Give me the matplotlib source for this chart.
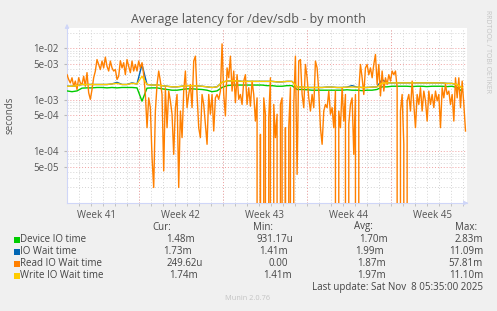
import numpy as np
import matplotlib
matplotlib.use('Agg')
import matplotlib.pyplot as plt
from matplotlib.patches import Rectangle
from matplotlib.ticker import FixedLocator, FuncFormatter, NullFormatter

W, H = 497, 311

# x axis: hours from the left edge of the graph (2 h per pixel, 400 px)
span_h = 800
week_starts = [143, 311, 479, 647]
week_mids = [59, 227, 395, 563, 731]
week_labels = ['Week 41', 'Week 42', 'Week 43', 'Week 44', 'Week 45']

# read io wait time in ms, one sample every ~3.3 h (0 = idle)
read_ms = [
    3.1, 2.5, 2.15, 2.7, 1.85, 2.33, 1.6, 2.7, 2.15, 2.0, 2.9, 1.85, 3.4, 1.38,
    1.03, 1.6, 2.7, 3.65, 6.1, 4.9, 3.9, 5.7, 4.2, 6.8, 4.5, 3.65, 5.7, 4.2,
    3.65, 3.9, 2.5, 2.9, 5.8, 4.2, 5.3, 3.1, 6.1, 4.5, 3.4, 5.7, 3.65,
    4.9, 3.65, 5.7, 4.2, 5.3, 3.1, 1.28, 0.29, 1.1, 0.71, 0.076, 0.02, 0.61,
    2.0, 3.65, 2.33, 1.28, 0.042, 1.73, 0.29, 1.49, 0.96, 0.53, 0.088, 0.71,
    1.28, 0.02, 0.61, 0.186, 1.49, 3.65, 0.71, 1.28, 2.0, 0.71, 5.7, 7.1, 1.28,
    0.29,
    0.186, 1.28, 0.82, 0.34, 0.138, 1.28, 0.53, 1.28, 0.25, 1.1, 1.28, 1.03,
    1.49, 12.3, 1.28, 0.49, 4.2, 2.7, 7.1, 1.49, 3.65, 0.89, 3.1, 1.03, 1.28,
    0.82, 2.33, 3.1, 0.82, 1.73, 0.76, 2.33, 1.28, 0.39, 1.1, 0, 0.215, 0, 1.1,
    0.53, 0, 0.45, 2.7, 0, 0.82, 0.186, 0.53, 0, 0.82, 1.1, 0, 0.29, 0, 0.29,
    1.73, 0, 0.82, 7.1, 0.036, 5.7, 6.1, 1.28, 0.71, 4.9, 2.7, 1.1, 0.61, 1.28,
    0.71, 5.7, 4.2, 1.49, 0.29, 0.138, 0.61, 0.82,
    0.71, 1.49, 0.53, 0.71, 0.29, 1.49, 0, 0.61, 0.29, 1.73, 0.39, 1.28, 0,
    0.34, 0.82, 1.1, 0.088, 1.28, 0, 1.49, 4.9, 2.7, 1.28, 4.2, 4.9, 3.1, 4.2,
    2.7, 4.9, 7.65, 2.0, 4.9, 1.2, 3.65, 1.49, 2.7, 2.0, 3.1, 2.33, 3.65, 3.1,
    3.65, 1.73, 0, 0.61, 1.28, 0.138, 0, 0.96, 1.28, 0.61, 2.33, 0.82, 0.29,
    1.28, 0.82, 1.73, 0.61, 1.49, 0.96, 0.39, 1.49, 0.82, 1.28, 0.71, 1.49,
    0.96, 1.28, 0.29, 1.73, 1.1, 2.0, 1.28, 1.49, 0.82, 1.28, 0.39, 2.7, 1.1,
    2.7, 0.71, 2.33, 0.82, 0.25,
]

# smoother series in ms, one sample every 10 h
device_ms = [
    1.5, 1.45, 1.5, 1.7, 1.72, 1.72, 1.75, 1.75, 1.72, 1.75,
    1.72, 1.75, 1.75, 1.75, 1.72, 0.95, 1.7, 1.72, 1.72, 1.65,
    1.6, 1.55, 1.55, 1.6, 1.65, 1.65, 1.62, 1.6, 1.55, 1.45,
    1.5, 1.75, 1.9, 1.95, 1.95, 1.95, 1.95, 1.95, 1.95, 1.95,
    1.9, 1.9, 1.85, 1.85, 1.9, 1.9, 1.6, 1.6, 1.58, 1.55,
    1.55, 1.55, 1.55, 1.55, 1.55, 1.55, 1.58, 1.55, 1.55, 1.52,
    1.55, 1.55, 1.6, 1.8, 1.8, 1.85, 1.85, 1.85, 1.85, 1.82,
    1.85, 1.85, 1.82, 1.85, 1.85, 1.85, 1.82, 1.85, 1.75, 1.48,
]
iowait_ms = [
    1.85, 1.85, 1.9, 2.0, 2.0, 2.0, 2.0, 2.0, 2.0, 2.05,
    2.2, 2.0, 2.0, 2.15, 2.05, 4.9, 2.0, 1.95, 1.95, 1.9,
    1.85, 1.8, 1.8, 1.85, 1.9, 1.9, 1.88, 1.85, 1.8, 1.75,
    1.8, 2.2, 2.35, 2.35, 2.35, 2.3, 2.3, 2.3, 2.3, 2.3,
    2.3, 2.3, 2.25, 2.25, 2.3, 2.3, 1.8, 1.78, 1.75, 1.75,
    1.75, 1.75, 1.78, 1.78, 1.75, 1.75, 1.78, 1.9, 1.78, 1.75,
    1.75, 1.78, 1.8, 2.5, 2.15, 2.15, 2.15, 2.15, 2.15, 2.15,
    2.15, 2.15, 2.15, 2.15, 2.15, 2.15, 2.1, 2.1, 2.0, 1.73,
]
write_ms = [
    1.85, 1.85, 1.9, 2.0, 2.0, 2.0, 2.0, 2.0, 2.0, 2.05,
    2.1, 2.0, 2.0, 2.1, 2.05, 2.9, 2.0, 1.95, 1.95, 1.9,
    1.85, 1.8, 1.8, 1.85, 1.9, 1.9, 1.88, 1.85, 1.8, 1.75,
    1.8, 2.2, 2.35, 2.35, 2.35, 2.3, 2.3, 2.3, 2.3, 2.3,
    2.3, 2.3, 2.25, 2.25, 2.3, 2.3, 1.8, 1.78, 1.75, 1.75,
    1.75, 1.75, 1.78, 1.78, 1.75, 1.75, 1.78, 1.78, 1.78, 1.75,
    1.75, 1.78, 1.8, 2.1, 2.15, 2.15, 2.15, 2.15, 2.15, 2.15,
    2.15, 2.15, 2.15, 2.15, 2.15, 2.15, 2.1, 2.1, 2.0, 1.74,
]

legend_names = ['Device IO time', 'IO Wait time', 'Read IO Wait time', 'Write IO Wait time']
legend_colors = ['#00CC00', '#0066B3', '#FF8000', '#FFCC00']
headers = ['Cur:', 'Min:', 'Avg:', 'Max:']
cur_vals = ['1.48m', '1.73m', '249.62u', '1.74m']
min_vals = ['931.17u', '1.41m', '0.00', '1.41m']
avg_vals = ['1.70m', '1.99m', '1.87m', '1.97m']
max_vals = ['2.83m', '11.09m', '57.81m', '11.10m']

t_read = np.linspace(0, 797, len(read_ms))
t_slow = np.linspace(0, 790, len(device_ms))

plt.rcParams['font.family'] = ['Open Sans', 'DejaVu Sans']
fig = plt.figure(figsize=(W / 100, H / 100), dpi=100, facecolor='#F0F0F0')
ax = fig.add_axes([67 / W, (H - 203) / H, 400 / W, 175 / H])
ax.set_facecolor('white')

ax.set_yscale('log', nonpositive='clip')
ax.set_ylim(1e-5, 2.5e-2)
ax.set_xlim(0, span_h)

# grid
ax.yaxis.set_major_locator(FixedLocator([5e-5, 1e-4, 5e-4, 1e-3, 5e-3, 1e-2]))
ax.yaxis.set_major_formatter(FuncFormatter(lambda v, p: '%.0e' % v))
minors = [m * 10.0 ** e for e in range(-5, -1) for m in (2, 3, 4, 6, 7, 8, 9)]
ax.yaxis.set_minor_locator(FixedLocator(minors))
ax.yaxis.set_minor_formatter(NullFormatter())
ax.xaxis.set_major_locator(FixedLocator(week_mids))
ax.xaxis.set_major_formatter(FuncFormatter(lambda v, p: week_labels[p] if p is not None and p < len(week_labels) else ''))
ax.xaxis.set_minor_locator(FixedLocator(np.arange(23, span_h, 24)))

ax.grid(which='minor', axis='both', color='#D4D4D4', linestyle=(0, (1, 2)), linewidth=0.7)
ax.grid(which='major', axis='y', color='#F0A0A0', linestyle=(0, (1, 2)), linewidth=0.7)
for w in week_starts:
    ax.axvline(w, color='#F0A0A0', linestyle=(0, (1, 2)), linewidth=0.7, zorder=1)
ax.set_axisbelow(True)

ax.tick_params(axis='x', which='major', length=0, pad=5, labelsize=7, labelcolor='#555555')
ax.tick_params(axis='x', which='minor', length=2, color='#BBBBBB')
ax.tick_params(axis='y', which='major', length=2, color='#BBBBBB', pad=4, labelsize=7, labelcolor='#555555')
ax.tick_params(axis='y', which='minor', length=0)

for s in ['top', 'right']:
    ax.spines[s].set_visible(False)
for s in ['left', 'bottom']:
    ax.spines[s].set_color('#CFD6F8')
    ax.spines[s].set_linewidth(0.8)
ax.annotate('', xy=(1.01, 0), xytext=(0.99, 0), xycoords='axes fraction',
            arrowprops=dict(arrowstyle='-|>', color='#CFD6F8', lw=0.8, mutation_scale=6),
            annotation_clip=False)
ax.annotate('', xy=(0, 1.04), xytext=(0, 0.98), xycoords='axes fraction',
            arrowprops=dict(arrowstyle='-|>', color='#CFD6F8', lw=0.8, mutation_scale=6),
            annotation_clip=False)

# series (same order as munin: yellow drawn last)
ax.plot(t_slow, np.array(device_ms) / 1000, color=legend_colors[0], lw=1.0, zorder=3)
ax.plot(t_slow, np.array(iowait_ms) / 1000, color=legend_colors[1], lw=1.0, zorder=3)
ax.plot(t_read, np.array(read_ms) / 1000, color=legend_colors[2], lw=1.0, zorder=3)
ax.plot(t_slow, np.array(write_ms) / 1000, color=legend_colors[3], lw=1.0, zorder=3)

def fx(x):
    return x / W

def fy(y):
    return 1 - y / H

fig.text(fx(248), fy(20), 'Average latency for /dev/sdb - by month', ha='center', va='center',
         fontsize=9, color='#555555')
fig.text(fx(10), fy(115), 'seconds', rotation=90, ha='center', va='center', fontsize=7, color='#555555')
fig.text(fx(488), fy(51), 'RRDTOOL / TOBI OETIKER', rotation=270, ha='center', va='center',
         fontsize=5, color='#C4C4C4')

# legend table
head_right = [171, 273, 373, 477]
col_right = [[195, 192, 203, 198], [293, 288, 288, 292], [388, 384, 386, 386], [483, 483, 483, 483]]
cols = [cur_vals, min_vals, avg_vals, max_vals]
for h, xr in zip(headers, head_right):
    fig.text(fx(xr), fy(227), h, ha='right', va='center', fontsize=7, color='#444444')
for i, name in enumerate(legend_names):
    y = 239.5 + 12 * i
    fig.add_artist(Rectangle((fx(14), fy(y + 3)), 6 / W, 6 / H, transform=fig.transFigure,
                             facecolor=legend_colors[i], edgecolor='none'))
    fig.text(fx(20.5), fy(y), name, ha='left', va='center', fontsize=7, color='#444444')
    for c in range(4):
        fig.text(fx(col_right[c][i]), fy(y), cols[c][i], ha='right', va='center', fontsize=7, color='#444444')
fig.text(fx(483), fy(287.5), 'Last update: Sat Nov  8 05:35:00 2025', ha='right', va='center',
         fontsize=7, color='#444444')
fig.text(fx(248), fy(299), 'Munin 2.0.76', ha='center', va='center', fontsize=5.3, color='#C4C4C4')

fig.savefig('out.png', dpi=100, facecolor=fig.get_facecolor())
